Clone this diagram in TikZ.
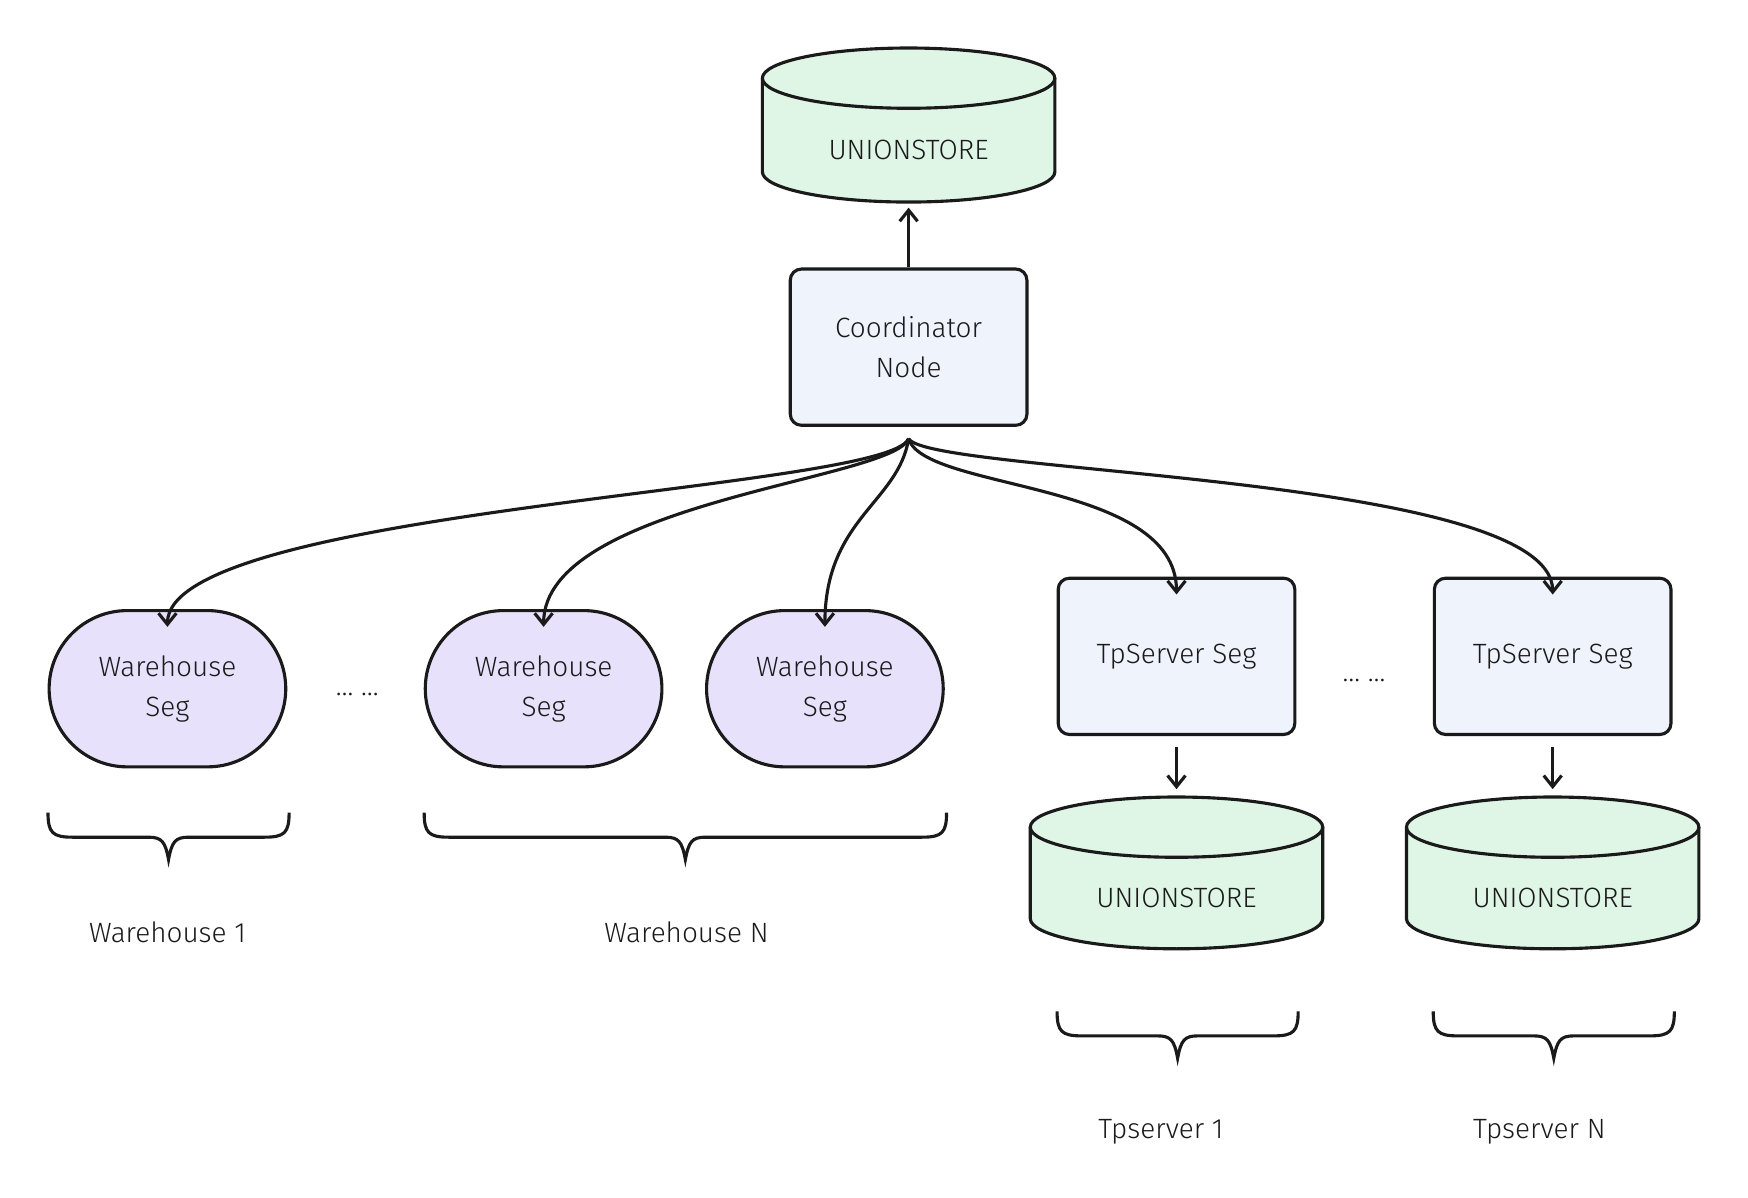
\documentclass[tikz,border=0pt]{standalone}
\usepackage{fontspec}
\setmainfont{Fira Sans Light}
\usetikzlibrary{arrows.meta}
\definecolor{cylg}{HTML}{DFF5E6}
\definecolor{boxb}{HTML}{EEF3FC}
\definecolor{lav}{HTML}{E8E1FB}
\definecolor{ink}{HTML}{1A1A1A}
\begin{document}
\begin{tikzpicture}[x=0.5pt,y=-0.5pt,
  line width=1.4pt, draw=ink,
  txt/.style={font=\fontsize{12.5}{18}\selectfont, text=ink, align=center},
  box/.style={draw=ink, fill=boxb, rounded corners=5pt, minimum width=106pt, minimum height=70pt, txt},
  seg/.style={draw=ink, fill=lav, rounded corners=35pt, minimum width=106pt, minimum height=70pt, txt},
  arr/.style={-{Straight Barb[length=5pt,width=8pt]}, draw=ink},
  brace/.style={draw=ink, line width=1.4pt}]
\useasboundingbox (0,0) rectangle (1566,1073);
\newcommand\mycyl[5]{%
  \fill[cylg] (#1-#4,#2+27) -- (#1-#4,#3-27) arc[start angle=180,end angle=0,x radius=#4,y radius=27] -- (#1+#4,#2+27) arc[start angle=0,end angle=-180,x radius=#4,y radius=27];
  \draw (#1-#4,#2+27) -- (#1-#4,#3-27) arc[start angle=180,end angle=0,x radius=#4,y radius=27] -- (#1+#4,#2+27);
  \draw (#1,#2+27) ellipse[x radius=#4,y radius=27];
  \node[txt, minimum width=2*#4*0.5pt, minimum height=(#3-#2)*0.5pt] (#5) at (#1,{(#2+#3)/2}) {};
}
\newcommand\mybrace[4]{%
  \draw[brace] (#1,#3) .. controls (#1,#3+18) and (#1+4,#3+22) .. (#1+22,#3+22)
    -- ({(#1+#2)/2-18},#3+22) .. controls ({(#1+#2)/2-6},#3+22) and ({(#1+#2)/2-3},#3+26) .. ({(#1+#2)/2},#4)
    .. controls ({(#1+#2)/2+3},#3+26) and ({(#1+#2)/2+6},#3+22) .. ({(#1+#2)/2+18},#3+22)
    -- (#2-22,#3+22) .. controls (#2-4,#3+22) and (#2,#3+18) .. (#2,#3);
}
\mycyl{814}{43}{181}{131}{us0}
\node[txt] at (814,134) {UNIONSTORE};
\node[box] (coord) at (814,311) {Coordinator\\Node};
\draw[arr] (coord.north) -- (814,186);
\coordinate (br) at (814,393);
\node[seg] (w1) at (150,617) {Warehouse\\Seg};
\node[seg] (w2) at (487,617) {Warehouse\\Seg};
\node[seg] (w3) at (739,617) {Warehouse\\Seg};
\node[box] (t1) at (1054,588) {TpServer Seg};
\node[box] (t2) at (1391,588) {TpServer Seg};
\node[txt] (d1) at (320,622) {… …};
\node[txt] (d2) at (1222,610) {… …};
\draw[arr] (br) .. controls (795,440) and (150,455) .. ([yshift=-8pt]w1.north);
\draw[arr] (br) .. controls (800,430) and (487,450) .. ([yshift=-8pt]w2.north);
\draw[arr] (br) .. controls (805,450) and (739,465) .. ([yshift=-8pt]w3.north);
\draw[arr] (br) .. controls (828,440) and (1054,430) .. ([yshift=-8pt]t1.north);
\draw[arr] (br) .. controls (833,425) and (1391,425) .. ([yshift=-8pt]t2.north);
\mycyl{1054}{714}{850}{131}{us1}
\node[txt] at (1054,804) {UNIONSTORE};
\mycyl{1391}{714}{850}{131}{us2}
\node[txt] at (1391,804) {UNIONSTORE};
\draw[arr] (t1.south) ++(0,-5pt) -- (1054,707);
\draw[arr] (t2.south) ++(0,-5pt) -- (1391,707);
\mybrace{43}{259}{728}{770}
\mybrace{380}{848}{728}{770}
\mybrace{947}{1163}{906}{948}
\mybrace{1284}{1500}{906}{948}
\node[txt] (l1) at (150,835) {Warehouse 1};
\node[txt] (l2) at (615,835) {Warehouse N};
\node[txt] (l3) at (1040,1014) {Tpserver 1};
\node[txt] (l4) at (1379,1014) {Tpserver N};
\end{tikzpicture}
\end{document}
